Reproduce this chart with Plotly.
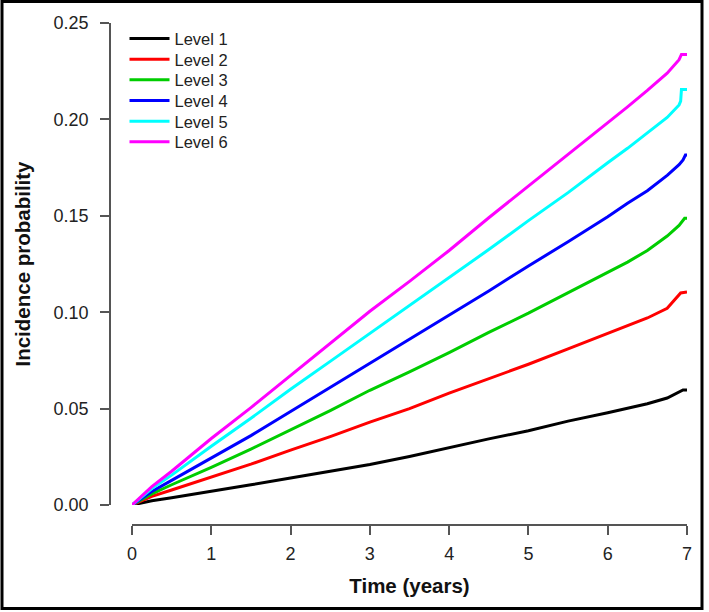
import plotly.graph_objects as go

# ---- data ----
level_names = ["Level 1", "Level 2", "Level 3", "Level 4", "Level 5", "Level 6"]
level_colors = ["#000000", "#FF0000", "#00CD00", "#0000FF", "#00FFFF", "#FF00FF"]

t_level1 = [0, 0.25, 0.5, 1, 1.5, 2, 2.5, 3, 3.5, 4, 4.5, 5, 5.5, 6, 6.25, 6.5, 6.75, 6.9, 6.95, 7.0]
p_level1 = [0, 0.0022, 0.0038, 0.0070, 0.0105, 0.0140, 0.0175, 0.0210, 0.0252, 0.0298, 0.0343,
            0.0385, 0.0435, 0.0478, 0.0500, 0.0525, 0.0555, 0.0585, 0.0597, 0.0597]

t_level2 = [0, 0.25, 0.5, 1, 1.5, 2, 2.5, 3, 3.5, 4, 4.5, 5, 5.5, 6, 6.25, 6.5, 6.75, 6.85, 6.92, 7.0]
p_level2 = [0, 0.0045, 0.0078, 0.0143, 0.0212, 0.0285, 0.0355, 0.0430, 0.0500, 0.0580, 0.0655,
            0.0730, 0.0810, 0.0890, 0.0930, 0.0970, 0.1020, 0.1065, 0.1100, 0.1105]

t_level3 = [0, 0.25, 0.5, 1, 1.5, 2, 2.5, 3, 3.5, 4, 4.5, 5, 5.5, 6, 6.25, 6.5, 6.75, 6.9, 6.97, 7.0]
p_level3 = [0, 0.0058, 0.0105, 0.0195, 0.0290, 0.0390, 0.0490, 0.0595, 0.0690, 0.0790, 0.0895,
            0.0995, 0.1100, 0.1205, 0.1260, 0.1320, 0.1395, 0.1450, 0.1487, 0.1487]

t_level4 = [0, 0.25, 0.5, 1, 1.5, 2, 2.5, 3, 3.5, 4, 4.5, 5, 5.5, 6, 6.25, 6.5, 6.75, 6.9, 6.95, 6.98, 7.0]
p_level4 = [0, 0.0070, 0.0128, 0.0245, 0.0360, 0.0485, 0.0610, 0.0735, 0.0860, 0.0985, 0.1110,
            0.1240, 0.1365, 0.1495, 0.1565, 0.1630, 0.1710, 0.1765, 0.1790, 0.1815, 0.1815]

t_level5 = [0, 0.25, 0.5, 1, 1.5, 2, 2.5, 3, 3.5, 4, 4.5, 5, 5.5, 6, 6.25, 6.5, 6.75, 6.9, 6.92, 6.93, 7.0]
p_level5 = [0, 0.0085, 0.0155, 0.0305, 0.0450, 0.0600, 0.0745, 0.0890, 0.1035, 0.1180, 0.1325,
            0.1475, 0.1620, 0.1775, 0.1850, 0.1930, 0.2010, 0.2075, 0.2095, 0.2155, 0.2155]

t_level6 = [0, 0.25, 0.5, 1, 1.5, 2, 2.5, 3, 3.5, 4, 4.5, 5, 5.5, 6, 6.25, 6.5, 6.75, 6.9, 6.93, 7.0]
p_level6 = [0, 0.0095, 0.0175, 0.0345, 0.0505, 0.0670, 0.0835, 0.1005, 0.1160, 0.1320, 0.1490,
            0.1655, 0.1815, 0.1980, 0.2065, 0.2150, 0.2240, 0.2310, 0.2337, 0.2337]

x_ticks = [0, 1, 2, 3, 4, 5, 6, 7]
y_ticks = [0.00, 0.05, 0.10, 0.15, 0.20, 0.25]
y_tick_labels = ["0.00", "0.05", "0.10", "0.15", "0.20", "0.25"]

times = [t_level1, t_level2, t_level3, t_level4, t_level5, t_level6]
probs = [p_level1, p_level2, p_level3, p_level4, p_level5, p_level6]

# ---- figure ----
W, H = 709, 612
FONT = "Liberation Sans, Arial, sans-serif"

fig = go.Figure()
legend_ids = ["legend"] + ["legend%d" % (i + 2) for i in range(len(level_names) - 1)]
for name, col, t, p, lg in zip(level_names, level_colors, times, probs, legend_ids):
    fig.add_trace(go.Scatter(x=t, y=p, mode="lines", name=name, legend=lg,
                             line=dict(color=col, width=3)))

axis_col = "#555555"
fig.update_layout(
    template="none",
    width=W, height=H,
    margin=dict(l=0, r=0, t=0, b=0, autoexpand=False),
    paper_bgcolor="white", plot_bgcolor="white",
    font=dict(family=FONT, color="#222222"),
    xaxis=dict(
        domain=[132 / W, 687 / W], range=[0, 7], automargin=False,
        anchor="free", position=(H - 525) / H,
        tickvals=x_ticks, ticks="outside", ticklen=9, tickwidth=1.5, tickcolor=axis_col,
        showline=True, linecolor=axis_col, linewidth=1.5,
        showgrid=False, zeroline=False,
        tickfont=dict(size=18, family=FONT, color="#222222"),
        ticklabelstandoff=4,
        title=dict(text="<b>Time (years)</b>", font=dict(size=20.5, family=FONT, color="#111111"),
                   standoff=14),
    ),
    yaxis=dict(
        domain=[(H - 505) / H, (H - 23) / H], range=[0, 0.25], automargin=False,
        anchor="free", position=110 / W,
        tickvals=y_ticks, ticktext=y_tick_labels,
        ticks="outside", ticklen=9, tickwidth=1.5, tickcolor=axis_col,
        showline=True, linecolor=axis_col, linewidth=1.5,
        showgrid=False, zeroline=False,
        tickfont=dict(size=18, family=FONT, color="#222222"),
        ticklabelstandoff=8,
        title=dict(text="<b>Incidence probability</b>", font=dict(size=20.5, family=FONT, color="#111111"),
                   standoff=16),
    ),
    showlegend=True,
)

# one single-entry legend per level, stacked at the reference's row spacing
row0, row_gap = 38.3, 20.65
for i, lg in enumerate(legend_ids):
    top = row0 + i * row_gap - 17
    fig.update_layout({lg: dict(
        x=124.5 / W, y=(H - top) / H, xanchor="left", yanchor="top",
        bgcolor="rgba(255,255,255,0)", borderwidth=0,
        font=dict(size=16.5, family=FONT, color="#222222"),
        itemwidth=40,
    )})

# outer frame of the figure
fig.add_shape(type="rect", xref="paper", yref="paper",
              x0=2 / W, x1=702 / W, y0=(H - 608.5) / H, y1=(H - 1.5) / H,
              line=dict(color="black", width=3), fillcolor="rgba(0,0,0,0)")

fig.write_html("out.html", config={"displayModeBar": False},
               post_script="document.body.style.margin='0';document.body.style.overflow='hidden';")
